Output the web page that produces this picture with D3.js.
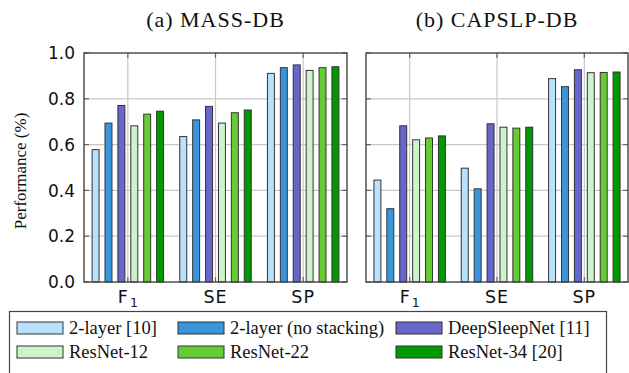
<!DOCTYPE html>
<html><head><meta charset="utf-8">
<script src="https://cdn.jsdelivr.net/npm/d3@7"></script>
<style>html,body{margin:0;padding:0;background:#fff;}svg{display:block;}</style>
</head><body>
<svg id="c" width="629" height="373"></svg>
<script>
const categories = ["F1", "SE", "SP"];
const series = ["2-layer [10]", "2-layer (no stacking)", "DeepSleepNet [11]", "ResNet-12", "ResNet-22", "ResNet-34 [20]"];
const colors = ["#b8e2fb", "#3a96dc", "#6666cc", "#ccf3cc", "#66cc33", "#009900"];
const yTicks = [0.0, 0.2, 0.4, 0.6, 0.8, 1.0];
// values[series][category]
const massValues = [
  [0.578, 0.635, 0.911],
  [0.694, 0.708, 0.936],
  [0.771, 0.767, 0.948],
  [0.682, 0.694, 0.924],
  [0.733, 0.739, 0.936],
  [0.746, 0.751, 0.940]
];
const capValues = [
  [0.445, 0.497, 0.888],
  [0.320, 0.407, 0.853],
  [0.682, 0.691, 0.927],
  [0.621, 0.676, 0.914],
  [0.629, 0.672, 0.915],
  [0.638, 0.676, 0.917]
];
const titles = ["(a) MASS-DB", "(b) CAPSLP-DB"];

const svg = d3.select("#c");
const yTop = 53, yBot = 282;
const y = d3.scaleLinear().domain([0, 1]).range([yBot, yTop]);

function panel(x0, x1, values, title, showY) {
  const g = svg.append("g");
  const x = d3.scaleBand().domain(categories).range([x0, x1]).padding(0);
  const xs = d3.scaleBand().domain(series).range([-38.7, 38.7]).paddingInner(0.46).paddingOuter(0.23);
  // grid
  g.selectAll(".hg").data(yTicks.slice(1, -1)).join("line")
    .attr("x1", x0).attr("x2", x1).attr("y1", d => y(d)).attr("y2", d => y(d))
    .attr("stroke", "#c8c8c8").attr("stroke-width", 1.2);
  g.selectAll(".vg").data(categories).join("line")
    .attr("x1", d => x(d) + x.bandwidth() / 2).attr("x2", d => x(d) + x.bandwidth() / 2)
    .attr("y1", yTop).attr("y2", yBot)
    .attr("stroke", "#c8c8c8").attr("stroke-width", 1.2);
  // ticks
  g.selectAll(".tl").data(yTicks).join("line")
    .attr("x1", x0).attr("x2", x0 + 5).attr("y1", d => y(d)).attr("y2", d => y(d))
    .attr("stroke", "#666").attr("stroke-width", 1.2);
  g.selectAll(".tr").data(yTicks).join("line")
    .attr("x1", x1 - 5).attr("x2", x1).attr("y1", d => y(d)).attr("y2", d => y(d))
    .attr("stroke", "#666").attr("stroke-width", 1.2);
  g.selectAll(".tt").data(categories).join("line")
    .attr("x1", d => x(d) + x.bandwidth() / 2).attr("x2", d => x(d) + x.bandwidth() / 2)
    .attr("y1", yTop).attr("y2", yTop + 5)
    .attr("stroke", "#666").attr("stroke-width", 1.2);
  g.selectAll(".tb").data(categories).join("line")
    .attr("x1", d => x(d) + x.bandwidth() / 2).attr("x2", d => x(d) + x.bandwidth() / 2)
    .attr("y1", yBot - 5).attr("y2", yBot)
    .attr("stroke", "#666").attr("stroke-width", 1.2);
  // bars
  series.forEach((s, si) => {
    g.selectAll(".b" + si).data(categories).join("rect")
      .attr("x", (c) => x(c) + x.bandwidth() / 2 + xs(s))
      .attr("width", xs.bandwidth())
      .attr("y", (c, ci) => y(values[si][ci]))
      .attr("height", (c, ci) => yBot - y(values[si][ci]))
      .attr("fill", colors[si]).attr("stroke", "#333").attr("stroke-width", 1);
  });
  // frame
  g.append("rect").attr("x", x0).attr("y", yTop).attr("width", x1 - x0).attr("height", yBot - yTop)
    .attr("fill", "none").attr("stroke", "#444").attr("stroke-width", 1.4);
  // x labels
  categories.forEach(c => {
    const t = g.append("text").attr("x", x(c) + x.bandwidth() / 2).attr("y", 303)
      .attr("text-anchor", "middle").attr("font-family", "DejaVu Sans").attr("font-size", 17.5)
      .attr("fill", "#111");
    if (c === "F1") {
      t.append("tspan").text("F");
      t.append("tspan").text("1").attr("font-size", 12.5).attr("dx", 2).attr("dy", 4);
    } else {
      t.text(c).attr("letter-spacing", 1);
    }
  });
  // y labels
  if (showY) {
    g.selectAll(".yl").data(yTicks).join("text")
      .attr("x", x0 - 9).attr("y", d => y(d)).attr("dy", "0.36em")
      .attr("text-anchor", "end").attr("font-family", "DejaVu Sans").attr("font-size", 17)
      .attr("fill", "#111").text(d => d.toFixed(1));
  }
  // title
  g.append("text").attr("x", (x0 + x1) / 2).attr("y", 26.5).attr("text-anchor", "middle")
    .attr("font-family", "Liberation Serif").attr("font-size", 22).attr("letter-spacing", 1)
    .attr("fill", "#111").text(title);
}

panel(84, 347, massValues, titles[0], true);
panel(366, 628, capValues, titles[1], false);

// y axis label
svg.append("text").attr("transform", "translate(26,171) rotate(-90)")
  .attr("text-anchor", "middle").attr("font-family", "Liberation Serif").attr("font-size", 17)
  .attr("fill", "#111").text("Performance (%)");

// legend
const lg = svg.append("g");
lg.append("rect").attr("x", 9.5).attr("y", 311.5).attr("width", 597).attr("height", 80)
  .attr("fill", "#fff").attr("stroke", "#444").attr("stroke-width", 1.2);
const colX = [17, 178, 396];
const rowY = [328, 352];
series.forEach((s, i) => {
  const cx = colX[i % 3], cy = rowY[Math.floor(i / 3)];
  lg.append("rect").attr("x", cx).attr("y", cy - 6).attr("width", 46).attr("height", 12)
    .attr("fill", colors[i]).attr("stroke", "#333").attr("stroke-width", 1);
  lg.append("text").attr("x", cx + 52).attr("y", cy).attr("dy", "0.33em")
    .attr("font-family", "Liberation Serif").attr("font-size", 18.5).attr("fill", "#111").text(s);
});
</script>
</body></html>
